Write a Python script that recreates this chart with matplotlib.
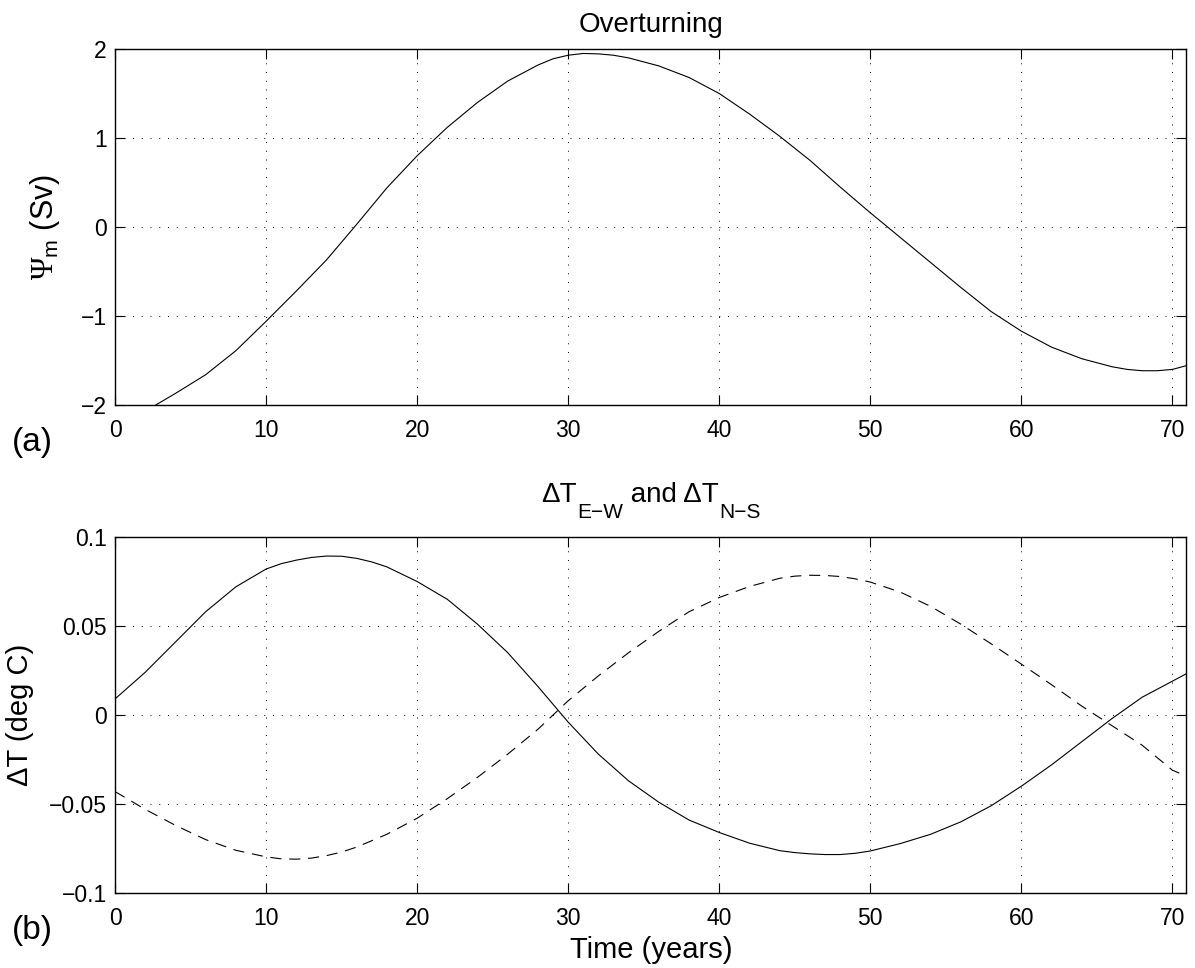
import numpy as np
import matplotlib
matplotlib.use("Agg")
import matplotlib.pyplot as plt

plt.rcParams['font.family'] = ['Liberation Sans', 'DejaVu Sans']
plt.rcParams['mathtext.fontset'] = 'custom'
plt.rcParams['mathtext.rm'] = 'Liberation Sans'
plt.rcParams['mathtext.it'] = 'Liberation Sans'
plt.rcParams['mathtext.bf'] = 'Liberation Serif'

# overturning streamfunction (Sv)
t_psi = [0, 2, 4, 6, 8, 10, 12, 14, 16, 18, 20, 22, 24, 26, 28, 29, 30, 31,
         32, 33, 34, 36, 38, 40, 42, 44, 46, 48, 50, 52, 54, 56, 58, 60, 62,
         64, 66, 67, 68, 69, 70, 71.1]
psi = [-2.3, -2.07, -1.87, -1.66, -1.39, -1.06, -0.72, -0.37, 0.03, 0.44,
       0.80, 1.12, 1.40, 1.64, 1.82, 1.89, 1.93, 1.95, 1.945, 1.93, 1.90,
       1.81, 1.68, 1.50, 1.27, 1.02, 0.75, 0.45, 0.16, -0.12, -0.40, -0.68,
       -0.95, -1.17, -1.35, -1.48, -1.57, -1.60, -1.615, -1.615, -1.60, -1.55]

# temperature differences (deg C)
t_ew = [0, 2, 4, 6, 8, 10, 11, 12, 13, 14, 15, 16, 17, 18, 20, 22, 24, 26,
        28, 30, 32, 34, 36, 38, 40, 42, 44, 45, 46, 47, 48, 49, 50, 52, 54,
        56, 58, 60, 62, 64, 66, 68, 70, 71.1]
dt_ew = [0.009, 0.024, 0.041, 0.058, 0.072, 0.082, 0.0850, 0.0870, 0.0885,
         0.0893, 0.0892, 0.0880, 0.0860, 0.0832, 0.075, 0.065, 0.051, 0.035,
         0.016, -0.004, -0.022, -0.037, -0.049, -0.059, -0.066, -0.072,
         -0.0762, -0.0773, -0.0780, -0.0784, -0.0784, -0.0777, -0.0764,
         -0.0722, -0.067, -0.060, -0.051, -0.040, -0.028, -0.015, -0.002,
         0.010, 0.019, 0.024]
t_ns = [0, 2, 4, 6, 8, 10, 11, 12, 13, 14, 15, 16, 18, 20, 22, 24, 26, 28,
        30, 32, 34, 36, 38, 40, 42, 44, 45, 46, 47, 48, 49, 50, 52, 54, 56,
        58, 60, 62, 64, 66, 68, 70, 71.1]
dt_ns = [-0.043, -0.053, -0.062, -0.070, -0.076, -0.0797, -0.0808, -0.0810,
         -0.0804, -0.0790, -0.0770, -0.0742, -0.067, -0.058, -0.047, -0.035,
         -0.022, -0.008, 0.008, 0.022, 0.035, 0.047, 0.058, 0.066, 0.0722,
         0.0768, 0.0780, 0.0785, 0.0784, 0.0778, 0.0765, 0.0747, 0.069,
         0.061, 0.051, 0.040, 0.0286, 0.017, 0.005, -0.006, -0.017, -0.031,
         -0.035]

xticks = [0, 10, 20, 30, 40, 50, 60, 70]

W, H = 1195, 968
fig = plt.figure(figsize=(W / 100, H / 100), dpi=100)

def px_axes(left, top, right, bottom):
    return fig.add_axes([left / W, 1 - bottom / H, (right - left) / W, (bottom - top) / H])

def style(ax):
    ax.tick_params(direction='in', length=7, width=0.8, top=True, right=True,
                   labelsize=16.5, pad=6)
    ax.tick_params(axis='x', pad=10)
    ax.grid(True, color='k', linestyle=(0, (1, 8)), linewidth=0.7)
    for s in ax.spines.values():
        s.set_linewidth(1.0)
    ax.set_xticks(xticks)
    ax.set_xlim(0, 70.9)

def fmt(v, _):
    return ('%g' % v).replace('-', '\u2212')

ax1 = px_axes(115, 49, 1186, 405)
ax1.plot(t_psi, psi, color='k', lw=0.8)
style(ax1)
ax1.set_ylim(-2, 2)
ax1.set_yticks([-2, -1, 0, 1, 2])
ax1.yaxis.set_major_formatter(plt.FuncFormatter(fmt))

ax2 = px_axes(115, 537, 1186, 893)
ax2.plot(t_ew, dt_ew, color='k', lw=0.8)
ax2.plot(t_ns, dt_ns, color='k', lw=0.8, linestyle=(0, (10, 7)))
style(ax2)
ax2.set_ylim(-0.1, 0.1)
ax2.set_yticks([-0.1, -0.05, 0, 0.05, 0.1])
ax2.yaxis.set_major_formatter(plt.FuncFormatter(fmt))

# titles and labels
fig.text(651 / W, 1 - 25 / H, 'Overturning', ha='center', va='center', fontsize=20)

# second title built from pieces so the subscripts sit low like the original
pieces = [('\u0394T', 20, 0), ('E\u2212W', 15, 16), (' and \u0394T', 20, 0), ('N\u2212S', 15, 16)]
renderer = fig.canvas.get_renderer()
objs = []
widths = []
for s, size, drop in pieces:
    tx = fig.text(0, 0, s, fontsize=size, ha='left', va='baseline')
    widths.append(tx.get_window_extent(renderer).width)
    objs.append((tx, drop))
x = 651 - sum(widths) / 2
for (tx, drop), w in zip(objs, widths):
    tx.set_position((x / W, 1 - (502 + drop) / H))
    x += w

fig.text(45 / W, 1 - 227 / H, r'$\mathbf{\Psi}_{\mathrm{m}}$ (Sv)', rotation=90, ha='center', va='center', fontsize=22)
fig.text(20 / W, 1 - 715 / H, '\u0394T (deg C)', rotation=90, ha='center', va='center', fontsize=21)
fig.text(651 / W, 1 - 950 / H, 'Time (years)', ha='center', va='center', fontsize=21)
fig.text(32 / W, 1 - 443 / H, '(a)', ha='center', va='center', fontsize=24)
fig.text(32 / W, 1 - 931 / H, '(b)', ha='center', va='center', fontsize=24)

fig.savefig('out.png', dpi=100)
